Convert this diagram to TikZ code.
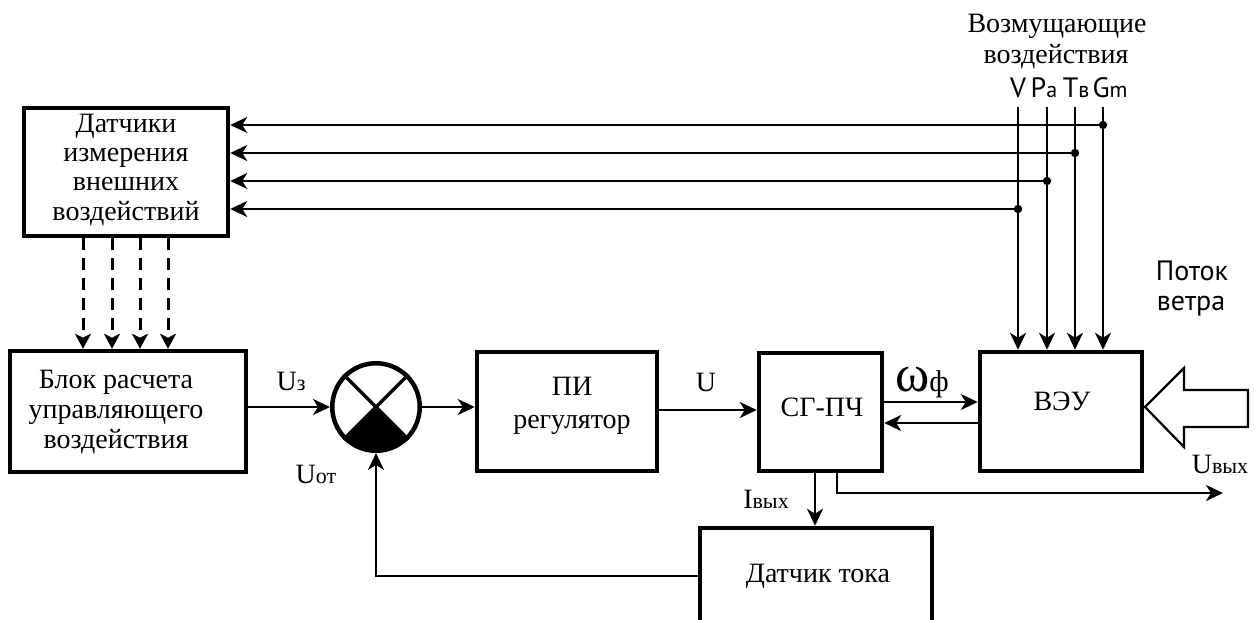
\documentclass[tikz,border=0pt]{standalone}
\usepackage{fontspec}
\setmainfont{Liberation Serif}
\newfontfamily\sansf{PT Sans}
\usetikzlibrary{arrows.meta}
\newcommand\fmain{\fontsize{28}{30}\selectfont}
\newcommand\fsub{\fontsize{22}{24}\selectfont}
\newcommand\fsans{\sansf\fontsize{28}{30}\selectfont}
\newcommand\fsanssub{\sansf\fontsize{22}{24}\selectfont}
\begin{document}
\begin{tikzpicture}[x=1pt,y=-1pt,
  blk/.style={draw, line width=4.5pt, inner sep=0pt},
  txt/.style={inner sep=0pt, anchor=base, font=\fmain},
  stxt/.style={inner sep=0pt, anchor=base, font=\fsans},
  conn/.style={line width=2.2pt, -{Stealth[length=17pt,width=16pt,inset=5pt]}},
  dsh/.style={line width=3pt, dash pattern=on 12pt off 8pt, -{Stealth[length=15pt,width=16pt,inset=4pt]}}]
\useasboundingbox (0,0) rectangle (1255,619);
\clip (0,0) rectangle (1255,619);

% blocks
\node[blk, minimum width=204pt, minimum height=128pt] (sens) at (126,172) {};
\node[blk, minimum width=236pt, minimum height=121pt] (calc) at (128,411.5) {};
\coordinate (sc) at (376,407);
\begin{scope}
  \clip (sc) circle[radius=44pt];
  \fill (sc) -- ++(-70pt,-70pt) -- ++(140pt,0pt) -- cycle;
\end{scope}
\node[draw, circle, line width=4.5pt, minimum size=87.5pt, inner sep=0pt] (sum) at (sc) {};
\draw[line width=3.5pt] (sum.45) -- (sum.225) (sum.135) -- (sum.315);
\node[blk, minimum width=180pt, minimum height=119pt] (pi) at (567,411.5) {};
\node[blk, minimum width=123pt, minimum height=118pt] (sg) at (820.5,412) {};
\node[blk, minimum width=162pt, minimum height=119pt] (veu) at (1061,411.5) {};
\node[blk, minimum width=232pt, minimum height=130pt] (dt) at (816,593) {};

% texts in blocks
\node[txt] (s1) at (126,132) {Датчики};
\node[txt] (s2) at (126,161) {измерения};
\node[txt] (s3) at (126,190) {внешних};
\node[txt] (s4) at (126,220) {воздействий};
\node[txt] (c1) at (116,388) {Блок расчета};
\node[txt] (c2) at (116,418) {управляющего};
\node[txt] (c3) at (116,448) {воздействия};
\node[txt] (p1) at (572,395) {ПИ};
\node[txt] (p2) at (572,428) {регулятор};
\node[txt] (g1) at (822,416) {СГ-ПЧ};
\node[txt] (v1) at (1062,410) {ВЭУ};
\node[txt] (d1) at (818,582) {Датчик тока};

% disturbance header
\node[txt] (h1) at (1057,32) {Возмущающие};
\node[txt] (h2) at (1056,63) {воздействия};
\node[stxt] (lV) at (1018,97) {V};
\node[stxt] (lP) at (1044,97) {P{\fsanssub a}};
\node[stxt] (lT) at (1076,97) {T{\fsanssub в}};
\node[stxt] (lG) at (1110,97) {G{\fsanssub m}};

% disturbance lines
\coordinate (dG) at (1103,125);
\coordinate (dT) at (1075,153);
\coordinate (dP) at (1047,181);
\coordinate (dV) at (1018,209);
\coordinate (tV) at (1018,107);
\coordinate (tP) at (1047,107);
\coordinate (tT) at (1075,107);
\coordinate (tG) at (1103,107);
\foreach \c in {dG,dT,dP,dV} {
  \draw[conn] (\c) -- (\c -| sens.east);
}
\foreach \c in {tV,tP,tT,tG} {
  \draw[conn] (\c) -- (\c |- veu.north);
}
\foreach \c in {dG,dT,dP,dV} {
  \fill (\c) circle[radius=4.2pt];
}

% dashed arrows
\foreach \x/\n in {83/1,112/2,140/3,168/4} {
  \coordinate (dd\n) at (\x,300);
  \draw[dsh] (dd\n |- sens.south) -- (dd\n |- calc.north);
}

% main chain
\draw[conn] (calc.east |- sc) -- (sum.west);
\draw[conn] (sum.east) -- (sum.east -| pi.west);
\coordinate (u) at (700,410);
\draw[conn] (u -| pi.east) -- (u -| sg.west);
\coordinate (w1) at (930,402);
\coordinate (w2) at (930,423);
\draw[conn] (w1 -| sg.east) -- (w1 -| veu.west);
\draw[conn] (w2 -| veu.west) -- (w2 -| sg.east);
\coordinate (ia) at (815,500);
\draw[conn] (ia |- sg.south) -- (ia |- dt.north);
\coordinate (ub) at (837,493);
\coordinate (uo) at (1223,493);
\draw[conn] (ub |- sg.south) |- (uo);
\coordinate (fb) at (376,576);
\draw[conn] (fb -| dt.west) -| (sum.south);

% wind arrow
\draw[line width=2.2pt, line join=miter] (1145,407) -- (1184,368) -- (1184,390) -- (1248,390) -- (1248,427) -- (1184,427) -- (1184,447) -- cycle;
\node[stxt] (wind1) at (1192,280) {Поток};
\node[stxt] (wind2) at (1191,310) {ветра};

% signal labels
\node[txt] (luz) at (291,390) {U{\fsub з}};
\node[txt] (luot) at (316,483) {U{\fsub от}};
\node[txt] (lu) at (706,391) {U};
\node[txt] (lw) at (922,391) {{\fontsize{52}{54}\selectfont ω}{\fontsize{30}{32}\selectfont ф}};
\node[txt] (liv) at (766,508) {I{\fsub вых}};
\node[txt] (luv) at (1220,473) {U{\fsub вых}};
\end{tikzpicture}
\end{document}
